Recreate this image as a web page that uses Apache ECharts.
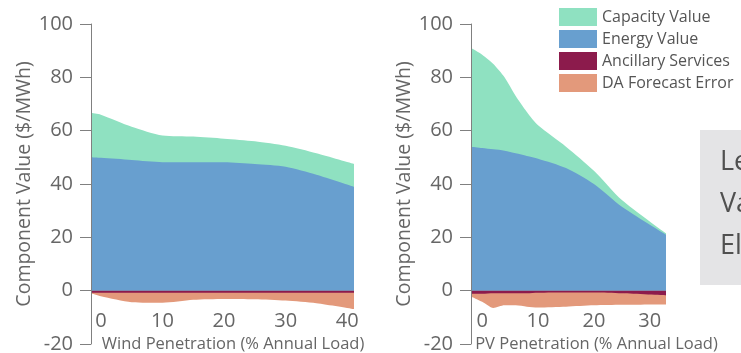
<!DOCTYPE html>
<html>
<head>
<meta charset="utf-8">
<script src="https://cdn.jsdelivr.net/npm/echarts@6/dist/echarts.min.js"></script>
<style>
html,body{margin:0;padding:0;background:#fff;}
#c{width:741px;height:353px;}
</style>
</head>
<body>
<div id="c"></div>
<script>
// ---- data ----
const seriesNames = ['Capacity Value', 'Energy Value', 'Ancillary Services', 'DA Forecast Error'];
const yTicks = [-20, 0, 20, 40, 60, 80, 100];

const windX        = [-1.6, 0, 5, 10, 15, 20, 25, 30, 35, 41.1];
const windEnergy   = [50, 49.8, 49, 48.2, 48.2, 48.2, 47.5, 46.5, 43.5, 39];
const windCapacity = [16.7, 16.2, 12.5, 10, 9.6, 8.8, 8.5, 7.8, 8, 8.5];
const windAncillary= [-0.8, -0.8, -0.8, -0.8, -0.8, -0.8, -0.8, -0.8, -0.8, -0.8];
const windDA       = [-0.2, -1.3, -3.5, -3.7, -2.6, -2.3, -2.4, -2.9, -3.9, -6.1];
const windTicks    = [0, 10, 20, 30, 40];

const pvX        = [-2, 0, 2, 4, 6, 8, 10, 15, 20, 25, 32.9];
const pvEnergy   = [54, 53.5, 53, 52.5, 51.5, 50.5, 49.5, 46, 40, 31.5, 21];
const pvCapacity = [37, 35, 32, 27.5, 21.5, 16.5, 12.5, 8, 5, 2.5, 0.5];
const pvAncillary= [-1.2, -1.2, -1, -1, -1, -1, -0.8, -0.7, -0.7, -1, -1.8];
const pvDA       = [-1, -3, -5.5, -4.5, -4.5, -5, -5.5, -5.3, -4.8, -4.3, -3.4];
const pvTicks    = [0, 10, 20, 30];

const sideLines = ['Le', 'Va', 'El'];

// ---- styles ----
const colors = {
  'Capacity Value': '#8fe1c1',
  'Energy Value': '#689fcf',
  'Ancillary Services': '#8c1b4c',
  'DA Forecast Error': '#e3997b'
};
const font = '"Open Sans", "Noto Sans", sans-serif';
const axisGray = '#808080';
const textGray = '#666666';

function pairs(xs, ys) { return xs.map((x, i) => [x, ys[i]]); }
function addArr(a, b) { return a.map((v, i) => v + b[i]); }

// Stacked areas: the cumulative outline of each layer, filled to zero,
// outer layers drawn underneath inner layers.
function makeSeries(gridIdx, xs, energy, capacity, anc, da) {
  const layers = [
    ['Capacity Value', addArr(energy, capacity), 1],
    ['Energy Value', energy, 2],
    ['DA Forecast Error', addArr(anc, da), 1],
    ['Ancillary Services', anc, 2]
  ];
  return layers.map(([name, vals, z]) => ({
    name: name,
    type: 'line',
    xAxisIndex: gridIdx,
    yAxisIndex: gridIdx,
    smooth: 0.25,
    showSymbol: false,
    symbol: 'none',
    lineStyle: { width: 0 },
    itemStyle: { color: colors[name] },
    areaStyle: { color: colors[name], opacity: 1, origin: 0 },
    data: pairs(xs, vals),
    z: z
  }));
}

function yAxisDef(gridIdx, gap) {
  return {
    type: 'value',
    gridIndex: gridIdx,
    min: -20, max: 100, interval: 20,
    name: 'Component Value ($/MWh)',
    nameLocation: 'middle',
    nameGap: gap,
    nameTextStyle: { fontFamily: font, fontSize: 19.5, color: textGray },
    axisLine: { show: true, onZero: false, lineStyle: { color: axisGray, width: 1 } },
    axisTick: { show: true, length: 11, lineStyle: { color: axisGray } },
    axisLabel: { fontFamily: font, fontSize: 20, color: textGray, margin: 18 },
    splitLine: { show: false },
    z: 5
  };
}

function xAxisDef(gridIdx, xs, ticks, name, pad) {
  return {
    type: 'value',
    gridIndex: gridIdx,
    min: xs[0], max: xs[xs.length - 1],
    offset: -34,
    name: name,
    nameLocation: 'middle',
    nameGap: 15,
    nameTextStyle: { fontFamily: font, fontSize: 16.5, color: textGray, padding: [0, 0, 0, pad] },
    axisLine: { show: false, onZero: false },
    axisTick: { show: false },
    axisLabel: { fontFamily: font, fontSize: 20, color: textGray, margin: 1, customValues: ticks },
    splitLine: { show: false }
  };
}

const chart = echarts.init(document.getElementById('c'));
chart.setOption({
  animation: false,
  backgroundColor: '#ffffff',
  grid: [
    { left: 91, top: 24, width: 263, height: 320, containLabel: false, outerBoundsMode: 'none' },
    { left: 471, top: 24, width: 195, height: 320, containLabel: false, outerBoundsMode: 'none' }
  ],
  xAxis: [
    xAxisDef(0, windX, windTicks, 'Wind Penetration (% Annual Load)', 21),
    xAxisDef(1, pvX, pvTicks, 'PV Penetration (% Annual Load)', 56)
  ],
  yAxis: [yAxisDef(0, 56), yAxisDef(1, 54)],
  legend: {
    orient: 'vertical',
    left: 559, top: 8,
    padding: 0,
    itemWidth: 38, itemHeight: 18, itemGap: 4,
    icon: 'rect',
    selectedMode: false,
    textStyle: { fontFamily: font, fontSize: 16, color: '#555555' },
    data: seriesNames
  },
  graphic: [
    { type: 'rect', left: 700, top: 130, shape: { width: 60, height: 155 }, style: { fill: '#e4e4e6' }, z: 0 },
    { type: 'text', left: 720, top: 149, style: { text: sideLines[0], font: '27px "Open Sans", sans-serif', fill: '#505050' } },
    { type: 'text', left: 720, top: 191, style: { text: sideLines[1], font: '27px "Open Sans", sans-serif', fill: '#505050' } },
    { type: 'text', left: 720, top: 233, style: { text: sideLines[2], font: '27px "Open Sans", sans-serif', fill: '#505050' } }
  ],
  series: [
    ...makeSeries(0, windX, windEnergy, windCapacity, windAncillary, windDA),
    ...makeSeries(1, pvX, pvEnergy, pvCapacity, pvAncillary, pvDA)
  ]
});
</script>
</body>
</html>
